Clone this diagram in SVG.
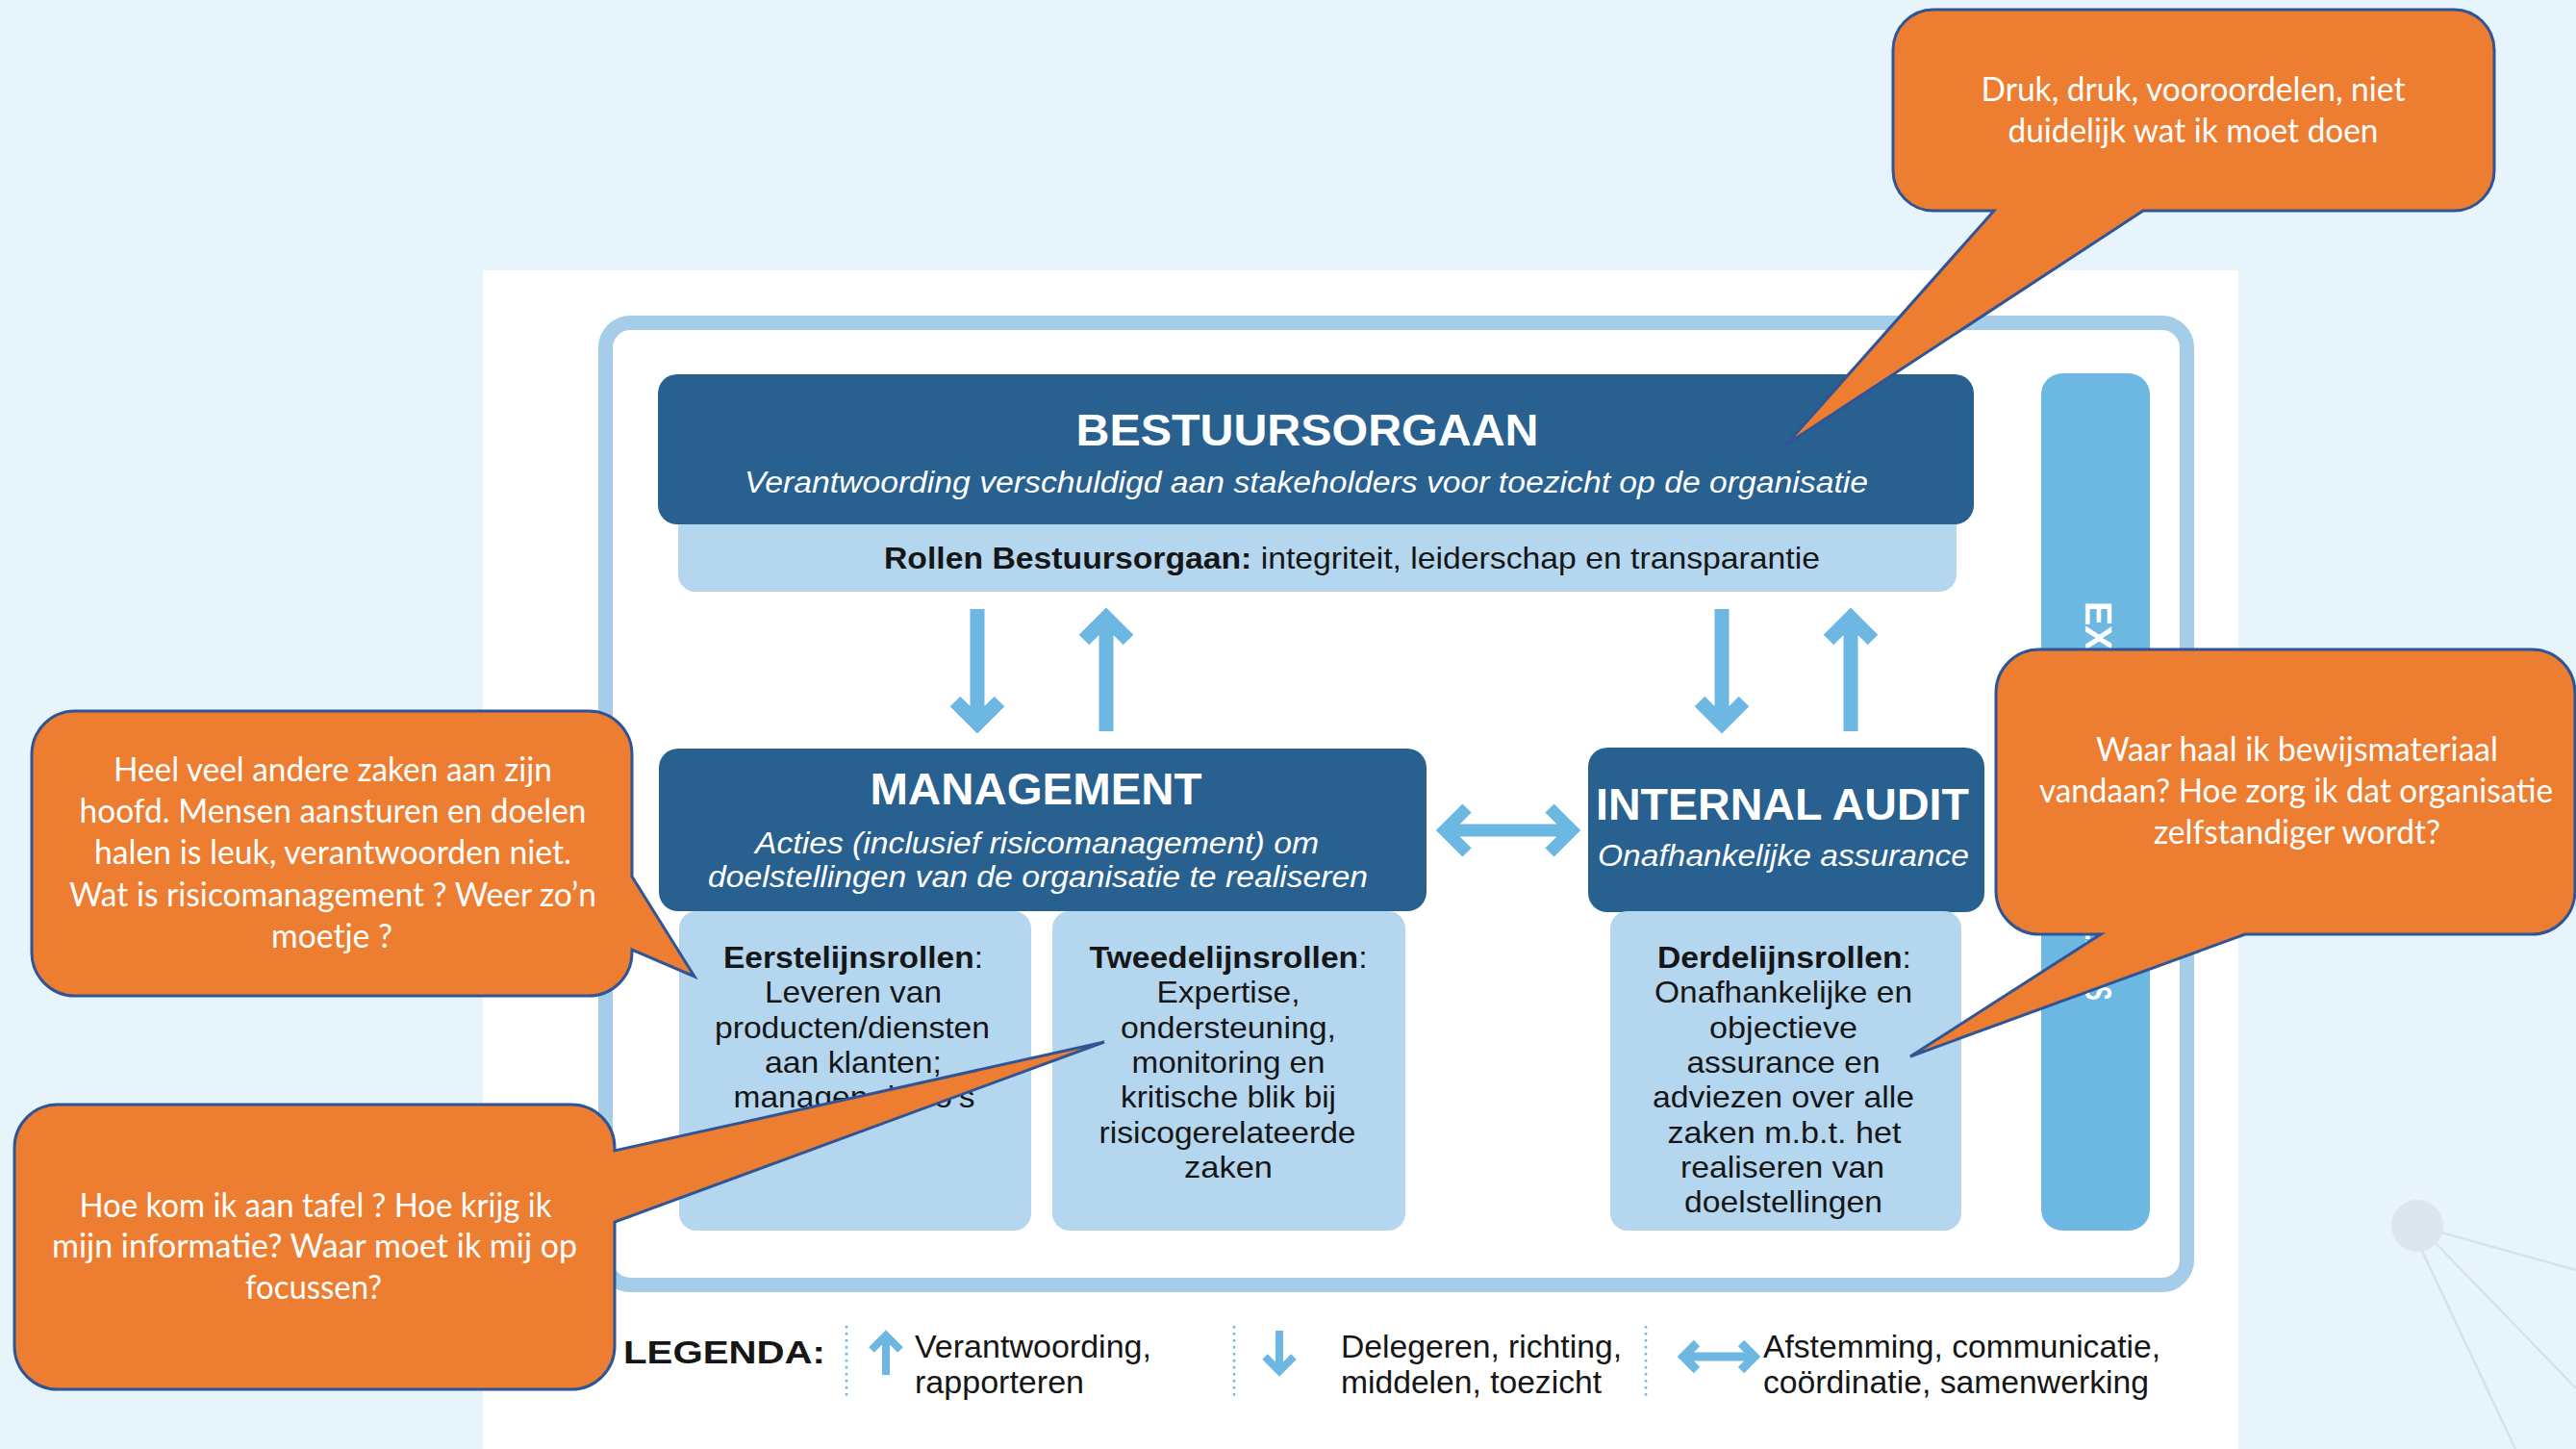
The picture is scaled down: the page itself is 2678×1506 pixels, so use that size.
<svg xmlns="http://www.w3.org/2000/svg" width="2678" height="1506" viewBox="0 0 2678 1506">
<style>
.dark{fill:#28608F}
.light{fill:#B5D6EF}
.title{font-family:"Liberation Sans",Arial,sans-serif;font-weight:bold;fill:#FFFFFF;font-size:46px;text-anchor:middle}
.sub{font-family:"Liberation Sans",Arial,sans-serif;font-style:italic;fill:#FFFFFF;font-size:31px;text-anchor:middle}
.body{font-family:"Liberation Sans",Arial,sans-serif;fill:#161616;font-size:32px;text-anchor:middle}
.leg{font-family:"Liberation Sans",Arial,sans-serif;fill:#161616;font-size:33px}
.b{font-weight:bold}
.arr{fill:none;stroke:#6CB8E3;stroke-width:15;stroke-linejoin:miter;stroke-linecap:butt}
.larr{fill:none;stroke:#6CB8E3;stroke-width:8;stroke-linejoin:miter;stroke-linecap:butt}
.dot{stroke:#6CB8E3;stroke-width:2.5;stroke-dasharray:2.5 4.5}
.callout{fill:#ED7D31;stroke:#2F5597;stroke-width:3;stroke-linejoin:miter}
.ct{font-family:Lato,"Open Sans",sans-serif;fill:#FFFFFF;font-size:34px;text-anchor:middle}
</style>
<rect x="0" y="0" width="2678" height="1506" fill="#E7F4FC"/>
<g id="decor" stroke="#D6E2EB" stroke-width="2.5">
<line x1="2538" y1="1281" x2="2678" y2="1320"/>
<line x1="2533" y1="1293" x2="2678" y2="1443"/>
<line x1="2518" y1="1300" x2="2615" y2="1506"/>
<circle cx="2513" cy="1274" r="27" fill="#DCE6EE" stroke="none"/>
</g>
<rect id="panel" x="502" y="281" width="1825" height="1225" fill="#FFFFFF"/>
<rect id="frame" x="629.5" y="335.5" width="1644" height="1000" rx="26" fill="none" stroke="#A5CCE8" stroke-width="15"/>

<g id="bestuursorgaan">
<rect class="light" x="705" y="520" width="1329" height="95" rx="18"/>
<rect class="dark" x="684" y="389" width="1368" height="156" rx="20"/>
<text class="title" x="1359" y="463" textLength="481" lengthAdjust="spacingAndGlyphs">BESTUURSORGAAN</text>
<text class="sub" x="1358" y="512" textLength="1168" lengthAdjust="spacingAndGlyphs">Verantwoording verschuldigd aan stakeholders voor toezicht op de organisatie</text>
<text class="body" x="919" y="591" style="text-anchor:start" textLength="973" lengthAdjust="spacingAndGlyphs"><tspan class="b">Rollen Bestuursorgaan:</tspan> integriteit, leiderschap en transparantie</text>
</g>

<g id="externe-bar">
<rect x="2122" y="388" width="113" height="891" rx="22" fill="#6CB8E3"/>
<text transform="translate(2168,625) rotate(90)" font-family="Liberation Sans, Arial, sans-serif" font-weight="bold" font-size="38" fill="#FFFFFF"><tspan>EX</tspan><tspan textLength="364" lengthAdjust="spacingAndGlyphs">TERNE ASSURANCEVERLENERS</tspan></text>
</g>

<g id="management">
<rect class="dark" x="685" y="778" width="798" height="169" rx="20"/>
<text class="title" x="1077" y="836" textLength="345" lengthAdjust="spacingAndGlyphs">MANAGEMENT</text>
<text class="sub" x="1078" y="887" textLength="586" lengthAdjust="spacingAndGlyphs">Acties (inclusief risicomanagement) om</text>
<text class="sub" x="1079" y="922" textLength="686" lengthAdjust="spacingAndGlyphs">doelstellingen van de organisatie te realiseren</text>
</g>

<g id="eerstelijnsrollen">
<rect class="light" x="706" y="947" width="366" height="332" rx="18"/>
<text class="body" x="887" y="1006" textLength="270" lengthAdjust="spacingAndGlyphs"><tspan class="b">Eerstelijnsrollen</tspan>:</text>
<text class="body" x="887" y="1042" textLength="184" lengthAdjust="spacingAndGlyphs">Leveren van</text>
<text class="body" x="886" y="1079" textLength="286" lengthAdjust="spacingAndGlyphs">producten/diensten</text>
<text class="body" x="887" y="1115" textLength="184" lengthAdjust="spacingAndGlyphs">aan klanten;</text>
<text class="body" x="888" y="1151" textLength="251" lengthAdjust="spacingAndGlyphs">managen risico’s</text>
</g>

<g id="tweedelijnsrollen">
<rect class="light" x="1094" y="947" width="367" height="332" rx="18"/>
<text class="body" x="1277" y="1006" textLength="289" lengthAdjust="spacingAndGlyphs"><tspan class="b">Tweedelijnsrollen</tspan>:</text>
<text class="body" x="1277" y="1042" textLength="149" lengthAdjust="spacingAndGlyphs">Expertise,</text>
<text class="body" x="1277" y="1079" textLength="224" lengthAdjust="spacingAndGlyphs">ondersteuning,</text>
<text class="body" x="1277" y="1115" textLength="201" lengthAdjust="spacingAndGlyphs">monitoring en</text>
<text class="body" x="1277" y="1151" textLength="224" lengthAdjust="spacingAndGlyphs">kritische blik bij</text>
<text class="body" x="1276" y="1188" textLength="267" lengthAdjust="spacingAndGlyphs">risicogerelateerde</text>
<text class="body" x="1277" y="1224" textLength="92" lengthAdjust="spacingAndGlyphs">zaken</text>
</g>

<g id="internal-audit">
<rect class="dark" x="1651" y="777" width="412" height="171" rx="20"/>
<text class="title" x="1853" y="852" textLength="388" lengthAdjust="spacingAndGlyphs">INTERNAL AUDIT</text>
<text class="sub" x="1854" y="900" textLength="386" lengthAdjust="spacingAndGlyphs">Onafhankelijke assurance</text>
</g>

<g id="derdelijnsrollen">
<rect class="light" x="1674" y="947" width="365" height="332" rx="18"/>
<text class="body" x="1855" y="1006" textLength="264" lengthAdjust="spacingAndGlyphs"><tspan class="b">Derdelijnsrollen</tspan>:</text>
<text class="body" x="1854" y="1042" textLength="268" lengthAdjust="spacingAndGlyphs">Onafhankelijke en</text>
<text class="body" x="1854" y="1079" textLength="154" lengthAdjust="spacingAndGlyphs">objectieve</text>
<text class="body" x="1854" y="1115" textLength="201" lengthAdjust="spacingAndGlyphs">assurance en</text>
<text class="body" x="1854" y="1151" textLength="272" lengthAdjust="spacingAndGlyphs">adviezen over alle</text>
<text class="body" x="1855" y="1188" textLength="243" lengthAdjust="spacingAndGlyphs">zaken m.b.t. het</text>
<text class="body" x="1853" y="1224" textLength="212" lengthAdjust="spacingAndGlyphs">realiseren van</text>
<text class="body" x="1854" y="1260" textLength="206" lengthAdjust="spacingAndGlyphs">doelstellingen</text>
</g>

<g id="connectors">
<path class="arr" d="M1016 633 V752 M993 729 L1016 752 L1039 729"/>
<path class="arr" d="M1150 760 V642 M1127 665 L1150 642 L1173 665"/>
<path class="arr" d="M1790 633 V752 M1767 729 L1790 752 L1813 729"/>
<path class="arr" d="M1924 760 V642 M1901 665 L1924 642 L1947 665"/>
<path class="arr" style="stroke-width:13" d="M1502 863 H1634 M1525 840 L1502 863 L1525 886 M1611 840 L1634 863 L1611 886"/>
</g>

<g id="legend">
<text class="leg b" x="648" y="1417" font-size="40" textLength="210" lengthAdjust="spacingAndGlyphs">LEGENDA:</text>
<line class="dot" x1="880" y1="1378" x2="880" y2="1455"/>
<path class="larr" d="M921 1429 V1389 M906 1403 L921 1388 L936 1403"/>
<text class="leg" x="951" y="1411" textLength="246" lengthAdjust="spacingAndGlyphs">Verantwoording,</text>
<text class="leg" x="951" y="1448" textLength="176" lengthAdjust="spacingAndGlyphs">rapporteren</text>
<line class="dot" x1="1283" y1="1378" x2="1283" y2="1455"/>
<path class="larr" d="M1330 1383 V1424 M1315 1410 L1330 1425 L1345 1410"/>
<text class="leg" x="1394" y="1411" textLength="292" lengthAdjust="spacingAndGlyphs">Delegeren, richting,</text>
<text class="leg" x="1394" y="1448" textLength="271" lengthAdjust="spacingAndGlyphs">middelen, toezicht</text>
<line class="dot" x1="1711" y1="1378" x2="1711" y2="1455"/>
<path class="larr" style="stroke-width:9" d="M1750 1410 H1824 M1764 1396 L1750 1410 L1764 1424 M1810 1396 L1824 1410 L1810 1424"/>
<text class="leg" x="1833" y="1411" textLength="413" lengthAdjust="spacingAndGlyphs">Afstemming, communicatie,</text>
<text class="leg" x="1833" y="1448" textLength="401" lengthAdjust="spacingAndGlyphs">coördinatie, samenwerking</text>
</g>

<g id="callout-druk">
<path class="callout" d="M2010 10 H2551 A42 42 0 0 1 2593 52 V177 A42 42 0 0 1 2551 219 H2228 L1857 462 L2073 219 H2010 A42 42 0 0 1 1968 177 V52 A42 42 0 0 1 2010 10 Z"/>
<text class="ct" x="2280" y="105" textLength="441" lengthAdjust="spacingAndGlyphs">Druk, druk, vooroordelen, niet</text>
<text class="ct" x="2280" y="148" textLength="385" lengthAdjust="spacingAndGlyphs">duidelijk wat ik moet doen</text>
</g>

<g id="callout-bewijs">
<path class="callout" d="M2120 675 H2632 A45 45 0 0 1 2677 720 V926 A45 45 0 0 1 2632 971 H2334 L1986 1098 L2184 971 H2120 A45 45 0 0 1 2075 926 V720 A45 45 0 0 1 2120 675 Z"/>
<text class="ct" x="2388" y="791" textLength="418" lengthAdjust="spacingAndGlyphs">Waar haal ik bewijsmateriaal</text>
<text class="ct" x="2387" y="834" textLength="534" lengthAdjust="spacingAndGlyphs">vandaan? Hoe zorg ik dat organisatie</text>
<text class="ct" x="2388" y="877" textLength="298" lengthAdjust="spacingAndGlyphs">zelfstandiger wordt?</text>
</g>

<g id="callout-management">
<path class="callout" d="M78 739 H612 A45 45 0 0 1 657 784 V911 L722 1015 L657 987 V990 A45 45 0 0 1 612 1035 H78 A45 45 0 0 1 33 990 V784 A45 45 0 0 1 78 739 Z"/>
<text class="ct" x="346" y="812" textLength="456" lengthAdjust="spacingAndGlyphs">Heel veel andere zaken aan zijn</text>
<text class="ct" x="346" y="855" textLength="527" lengthAdjust="spacingAndGlyphs">hoofd. Mensen aansturen en doelen</text>
<text class="ct" x="346" y="898" textLength="496" lengthAdjust="spacingAndGlyphs">halen is leuk, verantwoorden niet.</text>
<text class="ct" x="346" y="942" textLength="548" lengthAdjust="spacingAndGlyphs">Wat is risicomanagement ? Weer zo’n</text>
<text class="ct" x="345" y="985" textLength="126" lengthAdjust="spacingAndGlyphs">moetje ?</text>
</g>

<g id="callout-tafel">
<path class="callout" d="M60 1148 H594 A45 45 0 0 1 639 1193 V1196 L1148 1083 L639 1270 V1399 A45 45 0 0 1 594 1444 H60 A45 45 0 0 1 15 1399 V1193 A45 45 0 0 1 60 1148 Z"/>
<text class="ct" x="328" y="1265" textLength="491" lengthAdjust="spacingAndGlyphs">Hoe kom ik aan tafel ? Hoe krijg ik</text>
<text class="ct" x="327" y="1307" textLength="546" lengthAdjust="spacingAndGlyphs">mijn informatie? Waar moet ik mij op</text>
<text class="ct" x="326" y="1350" textLength="142" lengthAdjust="spacingAndGlyphs">focussen?</text>
</g>
</svg>
